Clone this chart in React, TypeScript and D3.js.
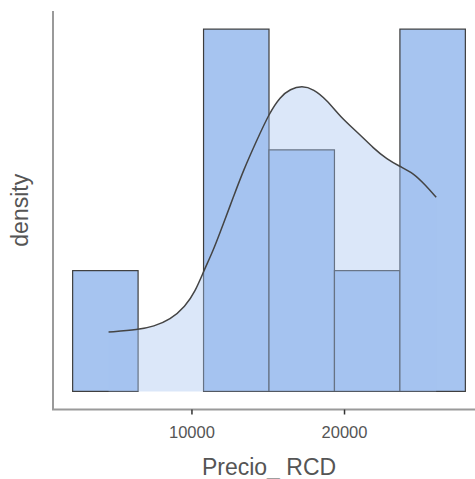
import { useEffect, useRef } from "react"
import * as d3 from "d3"

// histogram bins (Precio_RCD)
const binEdges = [2180, 6470, 10760, 15050, 19340, 23630, 27920]
const binCounts = [1, 0, 3, 2, 1, 3]
const sampleSize = 10

// kernel density curve
const densityX = [
  4535, 6501, 7484, 8578, 9561, 10216, 10806, 11416, 12071, 12726, 13382, 14259, 15066,
  15786, 16442, 17208, 17969, 18847, 19718, 20917, 21900, 22778, 23650, 24522, 25288, 26009,
]
const densityY = [
  1.145e-5, 1.19e-5, 1.253e-5, 1.382e-5, 1.639e-5, 1.928e-5, 2.346e-5, 2.732e-5, 3.247e-5,
  3.76e-5, 4.274e-5, 4.853e-5, 5.368e-5, 5.688e-5, 5.836e-5, 5.9e-5, 5.836e-5, 5.624e-5,
  5.302e-5, 4.982e-5, 4.693e-5, 4.481e-5, 4.338e-5, 4.211e-5, 3.985e-5, 3.748e-5,
]

const xTicks = [10000, 20000]

export default function App() {
  const svgRef = useRef<SVGSVGElement>(null)

  useEffect(() => {
    if (!svgRef.current) return
    d3.select(svgRef.current).selectAll("*").remove()

    const width = 475
    const height = 479
    const panel = { left: 53, top: 11, width: 432, bottom: 409.5 }

    const svg = d3.select(svgRef.current).attr("width", width).attr("height", height)

    const binWidth = binEdges[1] - binEdges[0]
    const bins = binCounts.map((c, i) => ({
      x0: binEdges[i],
      x1: binEdges[i + 1],
      density: c / (sampleSize * binWidth),
    }))

    // ggplot-like 5% expansion
    const xMin = binEdges[0]
    const xMax = binEdges[binEdges.length - 1]
    const xPad = (xMax - xMin) * 0.05
    const xScale = d3
      .scaleLinear()
      .domain([xMin - xPad, xMax + xPad])
      .range([panel.left, panel.left + panel.width])

    const yMax = d3.max(bins, (d) => d.density) as number
    const yScale = d3
      .scaleLinear()
      .domain([-yMax * 0.05, yMax * 1.05])
      .range([panel.bottom, panel.top])

    const barFill = "#a6c4f0"
    const textColor = "#555555"
    const font = "'Liberation Sans', Arial, sans-serif"

    // bars
    svg
      .append("g")
      .selectAll("rect")
      .data(bins.filter((d) => d.density > 0))
      .enter()
      .append("rect")
      .attr("x", (d) => xScale(d.x0))
      .attr("y", (d) => yScale(d.density))
      .attr("width", (d) => xScale(d.x1) - xScale(d.x0))
      .attr("height", (d) => yScale(0) - yScale(d.density))
      .attr("fill", barFill)
      .attr("stroke", "#3d3d3d")
      .attr("stroke-width", 1.2)

    const densityPts = densityX.map((x, i) => ({ x, y: densityY[i] }))

    // density fill (semi transparent, over the bars)
    const area = d3
      .area<{ x: number; y: number }>()
      .x((d) => xScale(d.x))
      .y0(yScale(0))
      .y1((d) => yScale(d.y))
      .curve(d3.curveBasis)

    svg
      .append("path")
      .datum(densityPts)
      .attr("d", area)
      .attr("fill", barFill)
      .attr("fill-opacity", 0.4)

    const line = d3
      .line<{ x: number; y: number }>()
      .x((d) => xScale(d.x))
      .y((d) => yScale(d.y))
      .curve(d3.curveBasis)

    svg
      .append("path")
      .datum(densityPts)
      .attr("d", line)
      .attr("fill", "none")
      .attr("stroke", "#444444")
      .attr("stroke-width", 1.5)

    // axes
    svg
      .append("line")
      .attr("x1", panel.left)
      .attr("x2", panel.left)
      .attr("y1", panel.top)
      .attr("y2", panel.bottom)
      .attr("stroke", "#9a9a9a")
      .attr("stroke-width", 2)

    svg
      .append("line")
      .attr("x1", panel.left - 1)
      .attr("x2", width)
      .attr("y1", panel.bottom)
      .attr("y2", panel.bottom)
      .attr("stroke", "#9a9a9a")
      .attr("stroke-width", 2)

    const ticks = svg.append("g").selectAll("g").data(xTicks).enter().append("g")

    ticks
      .append("line")
      .attr("x1", (d) => xScale(d))
      .attr("x2", (d) => xScale(d))
      .attr("y1", panel.bottom)
      .attr("y2", panel.bottom + 5)
      .attr("stroke", "#333333")
      .attr("stroke-width", 1.5)

    ticks
      .append("text")
      .attr("x", (d) => xScale(d))
      .attr("y", 437.5)
      .attr("text-anchor", "middle")
      .attr("fill", textColor)
      .style("font-family", font)
      .style("font-size", "16.5px")
      .text((d) => String(d))

    // axis titles
    svg
      .append("text")
      .attr("x", panel.left + panel.width / 2)
      .attr("y", 475)
      .attr("text-anchor", "middle")
      .attr("fill", textColor)
      .style("font-family", font)
      .style("font-size", "23px")
      .text("Precio_ RCD")

    svg
      .append("text")
      .attr("transform", `translate(28,${(panel.top + panel.bottom) / 2}) rotate(-90)`)
      .attr("text-anchor", "middle")
      .attr("fill", textColor)
      .style("font-family", font)
      .style("font-size", "23px")
      .text("density")
  }, [])

  return (
    <div style={{ position: "fixed", left: 0, top: 0, width: 475, height: 479, background: "#fff" }}>
      <svg ref={svgRef} style={{ display: "block" }}></svg>
    </div>
  )
}
